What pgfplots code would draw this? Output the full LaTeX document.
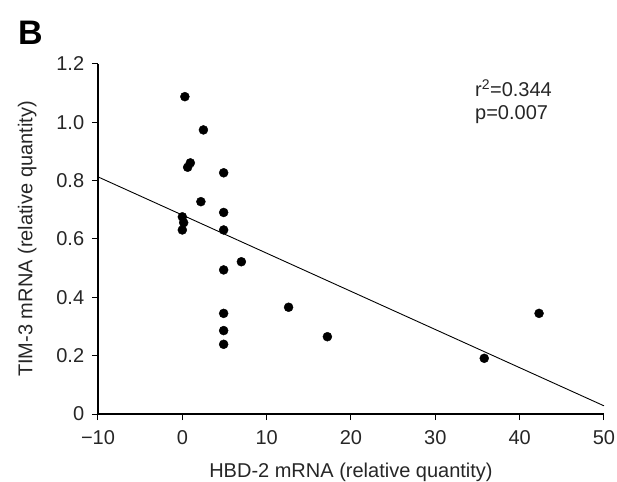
\documentclass[border=0pt]{standalone}
\usepackage{fontspec}
\setmainfont{Liberation Sans}
\usepackage{pgfplots}
\pgfplotsset{compat=1.18}

\begin{document}
\fontsize{20bp}{24bp}\selectfont
\begin{tikzpicture}
\useasboundingbox (-98bp,-68bp) rectangle (519bp,414bp);
\begin{axis}[
    scale only axis,
    width=506bp, height=350bp,
    xmin=-10, xmax=50,
    ymin=0, ymax=1.2,
    axis lines=left,
    axis line style={-, line width=1.3bp},
    tick style={line width=1bp, black},
    tick align=outside,
    major tick length=6bp,
    xtick={-10,0,10,20,30,40,50},
    xticklabels={−10,0,10,20,30,40,50},
    ytick={0,0.2,0.4,0.6,0.8,1.0,1.2},
    yticklabels={0,0.2,0.4,0.6,0.8,1.0,1.2},
    /pgf/number format/assume math mode=true,
    ticklabel style={font=\fontsize{20bp}{24bp}\selectfont, text=black!85},
    xticklabel style={yshift=-4bp},
    yticklabel style={xshift=-1bp},
    label style={font=\fontsize{20bp}{24bp}\selectfont, text=black!85},
    xlabel={HBD-2 mRNA (relative quantity)},
    ylabel={TIM-3 mRNA (relative quantity)},
    xlabel style={at={(axis description cs:0.5,-0.167)}, anchor=center},
    ylabel style={at={(axis description cs:-0.140,0.5)}, anchor=center},
    clip=false,
]
% data points
\addplot[only marks, mark=*, mark size=4.5bp, black] coordinates {
    (0.3,1.088) (2.5,0.974) (0.95,0.861) (0.63,0.846)
    (4.9,0.827) (2.2,0.728) (4.9,0.691) (0.0,0.676)
    (0.16,0.656) (0.0,0.631) (4.9,0.631) (7.0,0.522)
    (4.9,0.494) (12.6,0.366) (4.9,0.345) (4.9,0.286)
    (4.9,0.239) (17.2,0.265) (35.8,0.191) (42.3,0.345)
};
% regression line
\addplot[black, line width=0.9bp] coordinates {(-10,0.813) (50,0.028)};
\node[anchor=base west, inner sep=0, text=black!85] at (axis cs:34.7,1.087) {r\textsuperscript{2}=0.344};
\node[anchor=base west, inner sep=0, text=black!85] at (axis cs:34.7,1.008) {p=0.007};
\end{axis}
\node[anchor=base west, inner sep=0, font=\fontsize{34bp}{40bp}\selectfont\bfseries] at (-80bp,369bp) {B};
\end{tikzpicture}
\end{document}
